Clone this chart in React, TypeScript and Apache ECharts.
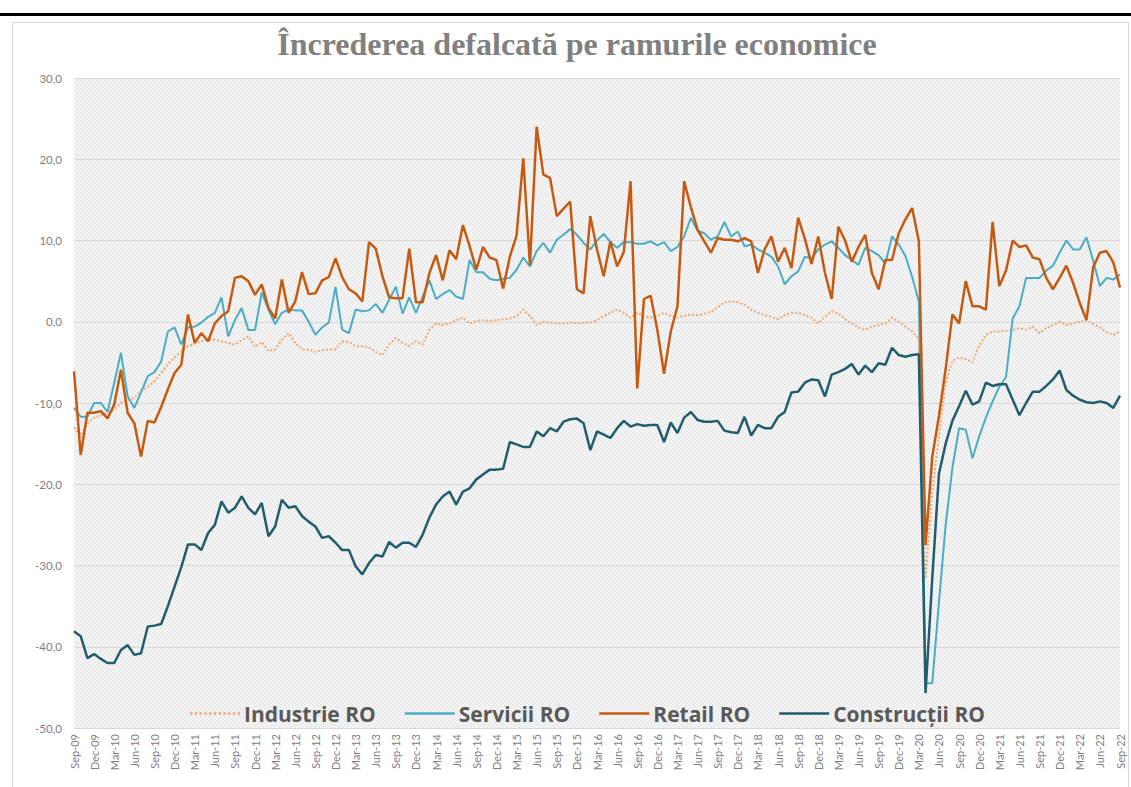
import React, { useEffect, useRef } from 'react';
import * as echarts from 'echarts';

const MONTHS = ['Jan', 'Feb', 'Mar', 'Apr', 'May', 'Jun', 'Jul', 'Aug', 'Sep', 'Oct', 'Nov', 'Dec'];

// Sep-09 ... Sep-22 (157 months)
const categories: string[] = [];
for (let y = 2009; y <= 2022; y++) {
  for (let m = 0; m < 12; m++) {
    if ((y === 2009 && m < 8) || (y === 2022 && m > 8)) continue;
    categories.push(`${MONTHS[m]}-${String(y % 100).padStart(2, '0')}`);
  }
}

const yTicks = [-50, -40, -30, -20, -10, 0, 10, 20, 30];

const industrie = [
  -13.0, -14.0, -12.5, -11.8, -11.5, -11.2, -10.8, -10.0, -9.6, -9.4,
  -8.5, -8.0, -7.3, -6.3, -5.2, -4.4, -3.7, -3.0, -2.7, -2.4,
  -2.2, -2.2, -2.4, -2.6, -2.8, -2.3, -1.8, -3.1, -2.5, -3.6,
  -3.4, -2.2, -1.4, -2.6, -3.4, -3.4, -3.7, -3.5, -3.4, -3.4,
  -2.4, -2.5, -3.0, -3.0, -3.2, -3.7, -4.1, -2.8, -2.0, -2.6,
  -3.0, -2.4, -2.8, -1.0, -0.2, -0.4, -0.2, 0.2, 0.5, -0.2,
  0.1, 0.2, 0.1, 0.2, 0.3, 0.4, 0.7, 1.5, 0.7, -0.4,
  0.0, -0.1, -0.2, -0.2, -0.1, -0.2, -0.1, -0.1, 0.2, 0.7,
  1.1, 1.5, 1.1, 0.5, 1.1, 0.7, 0.5, 0.7, 1.1, 0.7,
  0.5, 0.7, 0.9, 0.8, 1.0, 1.2, 1.8, 2.4, 2.5, 2.4,
  2.1, 1.5, 1.1, 0.8, 0.6, 0.3, 0.8, 1.1, 1.1, 0.8,
  0.5, -0.2, 0.6, 1.3, 1.0, 0.3, -0.2, -0.7, -1.0, -0.6,
  -0.4, -0.2, 0.5, 0.0, -0.6, -1.2, -2.1, -31.6, -21.0, -14.1,
  -7.5, -4.8, -4.4, -4.6, -5.0, -2.9, -1.6, -1.2, -1.2, -1.1,
  -1.0, -0.8, -1.0, -0.6, -1.4, -0.8, -0.4, 0.0, -0.4, -0.2,
  0.0, 0.2, -0.3, -0.7, -1.3, -1.6, -1.2,
];

const servicii = [
  -10.6, -11.7, -11.7, -10.0, -10.0, -11.1, -7.5, -3.8, -9.2, -10.6,
  -8.7, -6.7, -6.2, -4.9, -1.2, -0.7, -2.8, -0.7, -0.6, -0.1,
  0.6, 1.1, 3.0, -1.8, 0.2, 1.7, -1.0, -1.0, 3.6, 1.5,
  -0.3, 1.1, 1.5, 1.4, 1.4, 0.0, -1.6, -0.7, -0.1, 4.3,
  -1.0, -1.4, 1.5, 1.3, 1.4, 2.2, 1.1, 2.7, 4.3, 1.0,
  3.0, 1.1, 3.1, 5.1, 2.8, 3.4, 3.9, 3.1, 2.8, 7.6,
  6.1, 6.1, 5.3, 5.1, 5.3, 5.4, 6.4, 7.9, 6.8, 8.7,
  9.7, 8.5, 10.1, 10.7, 11.4, 10.7, 9.7, 8.9, 10.0, 10.8,
  9.8, 9.1, 9.8, 9.8, 9.6, 9.6, 9.9, 9.4, 9.8, 8.7,
  9.2, 10.5, 12.8, 11.2, 10.9, 10.1, 10.5, 12.3, 10.5, 11.1,
  9.3, 9.5, 8.9, 8.5, 8.0, 6.8, 4.6, 5.6, 6.2, 8.0,
  7.8, 8.9, 9.5, 9.9, 9.1, 8.2, 7.6, 7.0, 9.1, 8.7,
  8.2, 7.2, 10.5, 9.5, 8.1, 5.5, 2.5, -44.5, -44.5, -34.5,
  -25.0, -18.0, -13.1, -13.3, -16.8, -14.1, -11.8, -9.8, -8.0, -6.8,
  0.4, 1.9, 5.4, 5.4, 5.4, 6.3, 6.9, 8.5, 10.0, 8.9,
  8.9, 10.4, 7.5, 4.4, 5.4, 5.2, 5.8,
];

const retail = [
  -6.1, -16.4, -11.2, -11.2, -11.0, -11.9, -10.2, -5.9, -11.2, -12.5,
  -16.6, -12.2, -12.4, -10.5, -8.3, -6.3, -5.3, 0.9, -2.6, -1.4,
  -2.4, -0.2, 0.7, 1.3, 5.4, 5.6, 5.0, 3.3, 4.6, 1.7,
  0.4, 5.2, 1.1, 2.5, 6.1, 3.4, 3.5, 5.1, 5.5, 7.8,
  5.5, 4.0, 3.5, 2.5, 9.8, 9.0, 5.6, 3.0, 2.9, 2.9,
  9.0, 2.4, 2.4, 6.0, 8.2, 5.1, 8.8, 7.7, 11.9, 9.3,
  6.4, 9.2, 7.9, 7.6, 4.1, 8.0, 10.6, 20.1, 7.0, 24.0,
  18.1, 17.7, 13.0, 13.9, 14.8, 4.0, 3.5, 13.0, 8.9, 5.6,
  9.9, 6.8, 8.6, 17.3, -8.2, 2.8, 3.2, -1.0, -6.4, -1.2,
  1.9, 17.3, 14.1, 11.3, 9.9, 8.5, 10.3, 10.1, 10.1, 9.9,
  10.3, 9.9, 6.0, 8.9, 10.5, 7.4, 9.1, 6.6, 12.8, 10.2,
  7.1, 10.5, 6.0, 2.8, 11.7, 10.0, 7.4, 9.2, 10.7, 6.0,
  4.0, 7.6, 7.6, 10.9, 12.6, 14.0, 9.9, -27.5, -16.6, -11.6,
  -5.8, 0.9, -0.2, 5.0, 1.9, 1.9, 1.5, 12.3, 4.4, 6.3,
  10.0, 9.2, 9.4, 7.9, 7.7, 5.4, 4.0, 5.4, 6.9, 4.8,
  2.3, 0.2, 6.7, 8.5, 8.7, 7.3, 4.2,
];

const constructii = [
  -38.1, -38.7, -41.4, -40.9, -41.5, -42.0, -42.0, -40.4, -39.8, -41.0,
  -40.8, -37.5, -37.4, -37.2, -35.0, -32.6, -30.2, -27.4, -27.4, -28.1,
  -26.0, -25.0, -22.1, -23.5, -22.9, -21.5, -22.9, -23.7, -22.3, -26.4,
  -25.2, -21.9, -22.9, -22.7, -23.9, -24.6, -25.2, -26.6, -26.4, -27.2,
  -28.1, -28.1, -30.1, -31.1, -29.7, -28.7, -28.9, -27.1, -27.8, -27.2,
  -27.2, -27.7, -26.2, -24.1, -22.5, -21.5, -20.9, -22.5, -20.9, -20.5,
  -19.4, -18.8, -18.2, -18.2, -18.1, -14.8, -15.1, -15.4, -15.4, -13.5,
  -14.1, -13.1, -13.5, -12.3, -12.0, -11.9, -12.5, -15.8, -13.5, -13.9,
  -14.3, -13.1, -12.2, -12.9, -12.6, -12.8, -12.7, -12.7, -14.8, -12.4,
  -13.7, -11.8, -11.1, -12.1, -12.3, -12.3, -12.2, -13.4, -13.6, -13.7,
  -11.7, -14.0, -12.7, -13.1, -13.1, -11.7, -11.1, -8.7, -8.6, -7.5,
  -7.1, -7.2, -9.2, -6.5, -6.2, -5.8, -5.2, -6.5, -5.4, -6.2,
  -5.1, -5.3, -3.2, -4.1, -4.3, -4.1, -4.0, -45.7, -31.6, -18.7,
  -15.0, -12.2, -10.4, -8.5, -10.2, -9.8, -7.5, -7.9, -7.7, -7.7,
  -9.6, -11.5, -10.0, -8.6, -8.6, -7.9, -7.1, -6.0, -8.4, -9.1,
  -9.6, -9.9, -10.0, -9.8, -10.0, -10.6, -9.1,
];

const seriesNames = ['Industrie RO', 'Servicii RO', 'Retail RO', 'Construcții RO'];
const seriesColors = ['#f4a66e', '#4bacc6', '#c55a11', '#215d6c'];
const titleText = 'Încrederea defalcată pe ramurile economice';

// legend icons: plain line and dotted line
const SOLID_ICON = 'path://M0,0H50V2.5H0Z';
let dotted = 'path://';
for (let k = 0; k < 11; k++) {
  const x0 = k * 4.75;
  dotted += `M${x0},0H${x0 + 2.3}V2.5H${x0}Z`;
}
const DOTTED_ICON = dotted;

function makeHatch() {
  const cv = document.createElement('canvas');
  cv.width = 4;
  cv.height = 4;
  const ctx = cv.getContext('2d');
  if (ctx) {
    ctx.fillStyle = '#f4f4f4';
    ctx.fillRect(0, 0, 4, 4);
    ctx.fillStyle = '#e2e2e2';
    for (let k = 0; k < 4; k++) ctx.fillRect(k, k, 1, 1);
  }
  return cv;
}

export default function App() {
  const ref = useRef<HTMLDivElement>(null);

  useEffect(() => {
    if (!ref.current) return;
    const chart = echarts.init(ref.current, null, { renderer: 'svg' });
    const hatch = makeHatch();

    chart.setOption({
      animation: false,
      backgroundColor: '#ffffff',
      textStyle: { fontFamily: 'Lato' },
      grid: {
        show: true,
        left: 74,
        right: 11,
        top: 78,
        bottom: 59,
        borderWidth: 0,
        backgroundColor: { image: hatch, repeat: 'repeat', imageWidth: 4, imageHeight: 4 } as any,
      },
      graphic: [
        { type: 'rect', shape: { x: 0, y: 13, width: 1131, height: 3 }, style: { fill: '#000000' } },
        { type: 'rect', shape: { x: 12.5, y: 22.5, width: 1116, height: 800 }, style: { fill: 'none', stroke: '#d9d9d9', lineWidth: 1 } },
        {
          type: 'text',
          style: {
            text: titleText,
            x: 577,
            y: 44,
            textAlign: 'center',
            textVerticalAlign: 'middle',
            font: 'bold 32px "Liberation Serif"',
            fill: '#808080',
          },
        },
      ],
      legend: {
        data: seriesNames.map((n, i) => ({ name: n, icon: i === 0 ? DOTTED_ICON : SOLID_ICON })),
        left: 185,
        top: 698,
        itemWidth: 50,
        itemHeight: 3,
        itemGap: 29,
        textStyle: { fontFamily: 'Open Sans', fontSize: 21, fontWeight: 'bold', color: '#595959', padding: [0, 0, 0, -1] },
      },
      xAxis: {
        type: 'category',
        data: categories,
        boundaryGap: false,
        axisLine: { show: true, lineStyle: { color: '#d9d9d9' } },
        axisTick: { show: false },
        axisLabel: { interval: 2, rotate: 90, fontSize: 11, color: '#7f7f7f', margin: 6 },
        splitLine: { show: false },
      },
      yAxis: {
        type: 'value',
        min: yTicks[0],
        max: yTicks[yTicks.length - 1],
        interval: 10,
        axisLine: { show: false },
        axisTick: { show: false },
        axisLabel: {
          fontSize: 11.5,
          color: '#7f7f7f',
          margin: 12,
          formatter: (v: number) => v.toFixed(1).replace('.', ','),
        },
        splitLine: { show: true, lineStyle: { color: '#d9d9d9', width: 1 } },
      },
      series: [
        {
          name: seriesNames[0], type: 'line', data: industrie, symbol: 'none',
          lineStyle: { color: seriesColors[0], width: 2, type: 'dotted' }, itemStyle: { color: seriesColors[0] },
        },
        {
          name: seriesNames[1], type: 'line', data: servicii, symbol: 'none',
          lineStyle: { color: seriesColors[1], width: 2 }, itemStyle: { color: seriesColors[1] },
        },
        {
          name: seriesNames[2], type: 'line', data: retail, symbol: 'none',
          lineStyle: { color: seriesColors[2], width: 2.5 }, itemStyle: { color: seriesColors[2] },
        },
        {
          name: seriesNames[3], type: 'line', data: constructii, symbol: 'none',
          lineStyle: { color: seriesColors[3], width: 2.5 }, itemStyle: { color: seriesColors[3] },
        },
      ],
    });

    return () => chart.dispose();
  }, []);

  return (
    <div
      ref={ref}
      style={{ position: 'absolute', left: 0, top: 0, width: 1131, height: 787 }}
    />
  );
}
